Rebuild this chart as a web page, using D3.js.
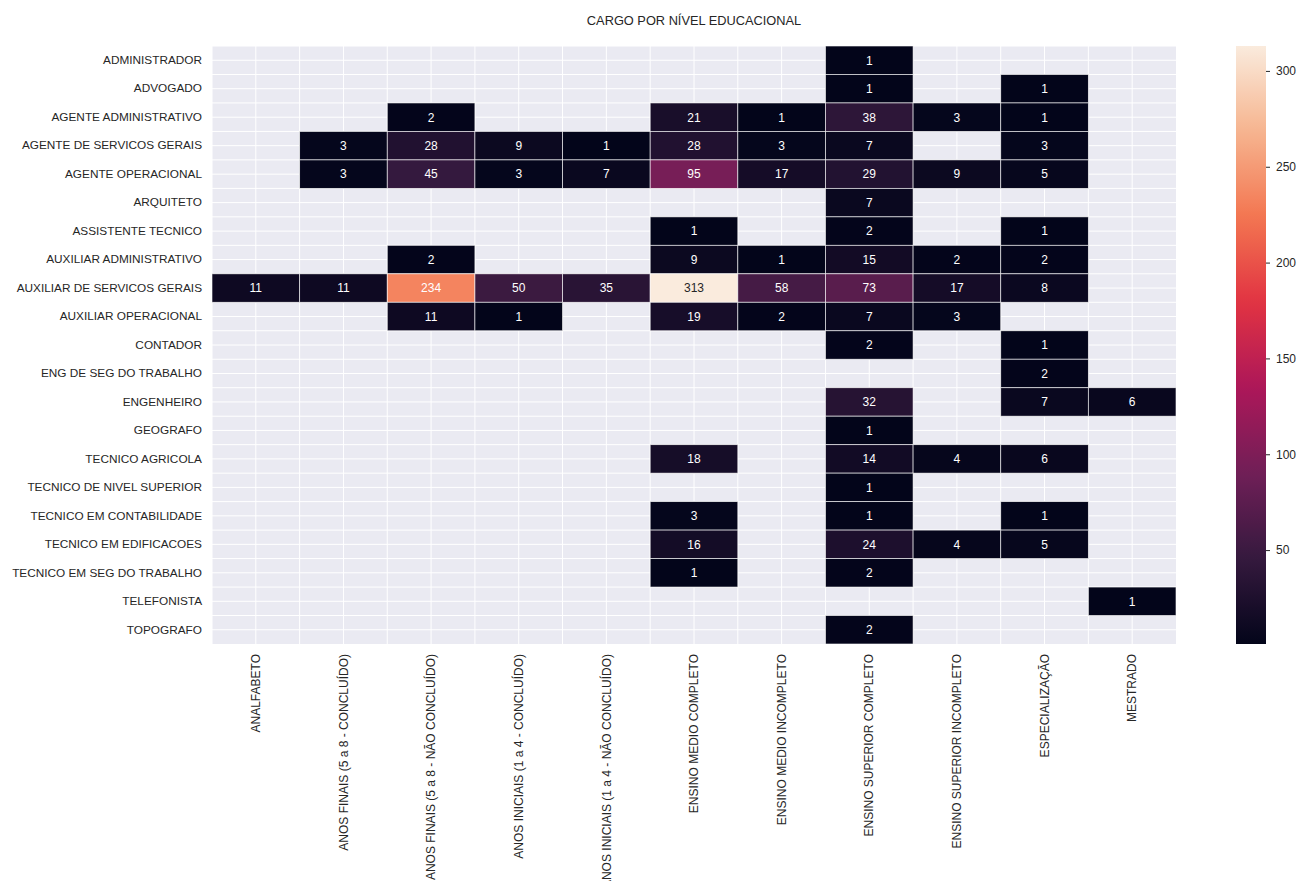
<!DOCTYPE html>
<html>
<head>
<meta charset="utf-8">
<script src="https://cdn.jsdelivr.net/npm/d3@7"></script>
<style>
  body { margin: 0; background: #fff; }
  svg { font-family: "Liberation Sans", Arial, sans-serif; }
</style>
</head>
<body>
<svg id="chart" width="1297" height="881"></svg>
<script>
const title = "CARGO POR NÍVEL EDUCACIONAL";

const cargos = [
  "ADMINISTRADOR", "ADVOGADO", "AGENTE ADMINISTRATIVO", "AGENTE DE SERVICOS GERAIS",
  "AGENTE OPERACIONAL", "ARQUITETO", "ASSISTENTE TECNICO", "AUXILIAR ADMINISTRATIVO",
  "AUXILIAR DE SERVICOS GERAIS", "AUXILIAR OPERACIONAL", "CONTADOR", "ENG DE SEG DO TRABALHO",
  "ENGENHEIRO", "GEOGRAFO", "TECNICO AGRICOLA", "TECNICO DE NIVEL SUPERIOR",
  "TECNICO EM CONTABILIDADE", "TECNICO EM EDIFICACOES", "TECNICO EM SEG DO TRABALHO",
  "TELEFONISTA", "TOPOGRAFO"
];

const niveis = [
  "ANALFABETO", "ANOS FINAIS (5 a 8 - CONCLUÍDO)", "ANOS FINAIS (5 a 8 - NÃO CONCLUÍDO)",
  "ANOS INICIAIS (1 a 4 - CONCLUÍDO)", "ANOS INICIAIS (1 a 4 - NÃO CONCLUÍDO)",
  "ENSINO MEDIO COMPLETO", "ENSINO MEDIO INCOMPLETO", "ENSINO SUPERIOR COMPLETO",
  "ENSINO SUPERIOR INCOMPLETO", "ESPECIALIZAÇÃO", "MESTRADO"
];

const _ = null;
const valores = [
  [_, _, _, _, _, _, _, 1, _, _, _],
  [_, _, _, _, _, _, _, 1, _, 1, _],
  [_, _, 2, _, _, 21, 1, 38, 3, 1, _],
  [_, 3, 28, 9, 1, 28, 3, 7, _, 3, _],
  [_, 3, 45, 3, 7, 95, 17, 29, 9, 5, _],
  [_, _, _, _, _, _, _, 7, _, _, _],
  [_, _, _, _, _, 1, _, 2, _, 1, _],
  [_, _, 2, _, _, 9, 1, 15, 2, 2, _],
  [11, 11, 234, 50, 35, 313, 58, 73, 17, 8, _],
  [_, _, 11, 1, _, 19, 2, 7, 3, _, _],
  [_, _, _, _, _, _, _, 2, _, 1, _],
  [_, _, _, _, _, _, _, _, _, 2, _],
  [_, _, _, _, _, _, _, 32, _, 7, 6],
  [_, _, _, _, _, _, _, 1, _, _, _],
  [_, _, _, _, _, 18, _, 14, 4, 6, _],
  [_, _, _, _, _, _, _, 1, _, _, _],
  [_, _, _, _, _, 3, _, 1, _, 1, _],
  [_, _, _, _, _, 16, _, 24, 4, 5, _],
  [_, _, _, _, _, 1, _, 2, _, _, _],
  [_, _, _, _, _, _, _, _, _, _, 1],
  [_, _, _, _, _, _, _, 2, _, _, _]
];

const colorbarTicks = [50, 100, 150, 200, 250, 300];

// rocket colormap approximation (control points)
const rocketStops = ["#03051a", "#35193e", "#701f57", "#ad1759", "#e13342", "#f37651", "#f6b48f", "#faebdd"];

const svg = d3.select("#chart");
const plot = { x0: 212, x1: 1176, y0: 46, y1: 644 };

const x = d3.scaleBand().domain(niveis).range([plot.x0, plot.x1]).padding(0);
const y = d3.scaleBand().domain(cargos).range([plot.y0, plot.y1]).padding(0);

const flat = valores.flat().filter(v => v !== null);
const vmin = d3.min(flat), vmax = d3.max(flat);
const tScale = d3.scaleLinear().domain([vmin, vmax]).range([0, 1]).clamp(true);
const rocket = d3.scaleLinear()
  .domain(rocketStops.map((c, i) => i / (rocketStops.length - 1)))
  .range(rocketStops)
  .interpolate(d3.interpolateRgb);
const color = v => rocket(tScale(v));

// background
svg.append("rect")
  .attr("x", plot.x0).attr("y", plot.y0)
  .attr("width", plot.x1 - plot.x0).attr("height", plot.y1 - plot.y0)
  .attr("fill", "#eaeaf2");

// grid lines (at centers and boundaries)
const gridG = svg.append("g").attr("stroke", "#ffffff").attr("stroke-width", 1);
const xLines = [];
niveis.forEach(n => { xLines.push(x(n) + x.bandwidth() / 2); xLines.push(x(n)); });
xLines.forEach(px => gridG.append("line")
  .attr("x1", px).attr("x2", px).attr("y1", plot.y0).attr("y2", plot.y1));
const yLines = [];
cargos.forEach(c => { yLines.push(y(c) + y.bandwidth() / 2); yLines.push(y(c)); });
yLines.forEach(py => gridG.append("line")
  .attr("y1", py).attr("y2", py).attr("x1", plot.x0).attr("x2", plot.x1));

// cells
const cells = [];
valores.forEach((row, i) => row.forEach((v, j) => {
  if (v !== null) cells.push({ cargo: cargos[i], nivel: niveis[j], v });
}));

function lum(c) {
  const rgb = d3.rgb(c);
  const f = ch => { ch /= 255; return ch <= 0.03928 ? ch / 12.92 : Math.pow((ch + 0.055) / 1.055, 2.4); };
  return 0.2126 * f(rgb.r) + 0.7152 * f(rgb.g) + 0.0722 * f(rgb.b);
}

svg.append("g").selectAll("rect").data(cells).join("rect")
  .attr("x", d => x(d.nivel))
  .attr("y", d => y(d.cargo))
  .attr("width", x.bandwidth())
  .attr("height", y.bandwidth())
  .attr("fill", d => color(d.v))
  .attr("stroke", "#ffffff")
  .attr("stroke-opacity", 0.75)
  .attr("stroke-width", 0.8);

svg.append("g").selectAll("text").data(cells).join("text")
  .attr("x", d => x(d.nivel) + x.bandwidth() / 2)
  .attr("y", d => y(d.cargo) + y.bandwidth() / 2)
  .attr("dy", "0.36em")
  .attr("text-anchor", "middle")
  .attr("font-size", 12)
  .attr("fill", d => lum(color(d.v)) > 0.408 ? "#262626" : "#ffffff")
  .text(d => d.v);

// y axis labels
const yAxis = d3.axisLeft(y).tickSize(0).tickPadding(10);
const yg = svg.append("g").attr("transform", `translate(${plot.x0},0)`).call(yAxis);
yg.select(".domain").remove();
yg.selectAll("text").attr("font-size", 11.8).attr("fill", "#262626")
  .attr("font-family", '"Liberation Sans", Arial, sans-serif');

// x axis labels
const xAxis = d3.axisBottom(x).tickSize(0).tickPadding(10);
const xg = svg.append("g").attr("transform", `translate(0,${plot.y1})`).call(xAxis);
xg.select(".domain").remove();
xg.selectAll("text")
  .attr("font-size", 12).attr("fill", "#262626")
  .attr("font-family", '"Liberation Sans", Arial, sans-serif')
  .attr("transform", "rotate(-90)")
  .attr("text-anchor", "end")
  .attr("x", -10).attr("y", 0).attr("dy", "0.35em");

// title
svg.append("text")
  .attr("x", (plot.x0 + plot.x1) / 2).attr("y", 25)
  .attr("text-anchor", "middle")
  .attr("font-size", 12.8).attr("fill", "#262626")
  .text(title);

// colorbar
const cb = { x: 1236, w: 30, y0: plot.y0, y1: plot.y1 };
const defs = svg.append("defs");
const grad = defs.append("linearGradient").attr("id", "cbgrad")
  .attr("x1", 0).attr("y1", 1).attr("x2", 0).attr("y2", 0);
d3.range(0, 1.0001, 0.02).forEach(t => {
  grad.append("stop").attr("offset", t).attr("stop-color", rocket(t));
});
svg.append("rect").attr("x", cb.x).attr("y", cb.y0)
  .attr("width", cb.w).attr("height", cb.y1 - cb.y0)
  .attr("fill", "url(#cbgrad)");

const cbScale = d3.scaleLinear().domain([vmin, vmax]).range([cb.y1, cb.y0]);
const cbAxis = d3.axisRight(cbScale).tickValues(colorbarTicks).tickSize(4).tickPadding(6);
const cbg = svg.append("g").attr("transform", `translate(${cb.x + cb.w},0)`).call(cbAxis);
cbg.select(".domain").remove();
cbg.selectAll("line").attr("stroke", "#262626").attr("stroke-width", 1);
cbg.selectAll("text").attr("font-size", 12).attr("fill", "#262626")
  .attr("font-family", '"Liberation Sans", Arial, sans-serif');
</script>
</body>
</html>
